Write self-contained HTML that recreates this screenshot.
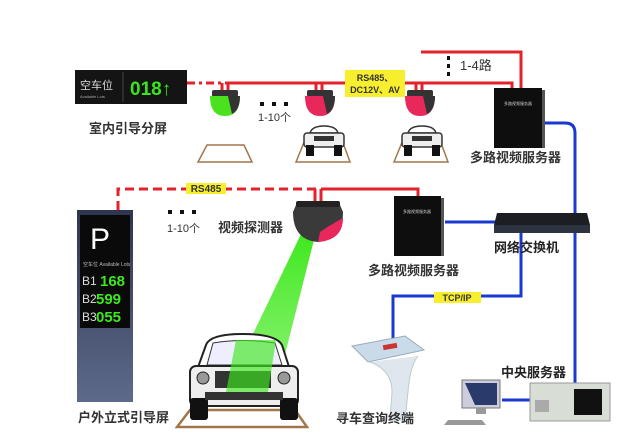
<!DOCTYPE html>
<html><head><meta charset="utf-8"><style>
html,body{margin:0;padding:0;background:#fff;width:641px;height:441px;overflow:hidden}
text{font-family:"Liberation Sans","Noto Sans CJK SC",sans-serif}
</style></head><body>
<svg width="641" height="441" viewBox="0 0 641 441" xmlns="http://www.w3.org/2000/svg">
<defs>
<linearGradient id="beam" x1="0" y1="0" x2="0" y2="1"><stop offset="0" stop-color="#3ee81e"/><stop offset="1" stop-color="#7cf060" stop-opacity="0.85"/></linearGradient>
<linearGradient id="pole" x1="0" y1="0" x2="0" y2="1"><stop offset="0" stop-color="#2e3550"/><stop offset="1" stop-color="#5d6a8a"/></linearGradient>
</defs>
<g stroke="#e3222b" stroke-width="3" fill="none">
<path d="M187 83 H225" stroke-dasharray="8,4,3,4"/>
<path d="M225 83 H345 M405 83 H512 V90"/>
<path d="M421 52 H521 V90"/>
<path d="M222 83 v8 M228 83 v8 M316 83 v8 M322 83 v8 M416 83 v8 M422 83 v8"/>
<path d="M118 210 V189 H330" stroke-dasharray="9,5"/>
<path d="M330 189 H418 V197"/>
<path d="M315 189 v12 M321 189 v12"/>
</g>
<rect x="345" y="70" width="60" height="27" fill="#f7ee2e"/>
<text x="375" y="81" font-size="9" font-weight="bold" text-anchor="middle" fill="#333">RS485、</text>
<text x="375" y="93" font-size="9" font-weight="bold" text-anchor="middle" fill="#333">DC12V、AV</text>
<g fill="#111"><rect x="447" y="56" width="3" height="4"/><rect x="447" y="64" width="3" height="4"/><rect x="447" y="72" width="3" height="4"/></g>
<text x="460" y="70" font-size="13" fill="#333">1-4路</text>
<rect x="186" y="183" width="40" height="11" fill="#f7ee2e"/>
<text x="206" y="192" font-size="10" font-weight="bold" text-anchor="middle" fill="#333">RS485</text>
<rect x="75" y="70" width="112" height="34" fill="#141414"/>
<line x1="123" y1="72" x2="123" y2="102" stroke="#444"/>
<text x="80" y="89" font-size="11" fill="#ddd">空车位</text>
<text x="80" y="98" font-size="4" fill="#aaa">Available Lots</text>
<text x="130" y="95" font-size="19" font-weight="bold" fill="#39e51f">018↑</text>
<text x="89" y="133" font-size="13" font-weight="bold" fill="#333">室内引导分屏</text>
<g>
<rect x="212" y="90" width="26" height="7" rx="2" fill="#333"/>
<path d="M210 96 H240 Q240 116 225 116 Q210 116 210 96Z" fill="#49e21d"/><path d="M228 96 H240 Q240 110 232 114Z" fill="#333"/>
<rect x="307" y="90" width="26" height="7" rx="2" fill="#333"/>
<path d="M305 96 H335 Q335 116 320 116 Q305 116 305 96Z" fill="#e8285a"/><path d="M323 96 H335 Q335 110 327 114Z" fill="#333"/>
<rect x="407" y="90" width="26" height="7" rx="2" fill="#333"/>
<path d="M405 96 H435 Q435 116 420 116 Q405 116 405 96Z" fill="#e8285a"/><path d="M423 96 H435 Q435 110 427 114Z" fill="#333"/>
</g>
<g fill="#111"><rect x="260" y="102" width="4" height="4"/><rect x="272" y="102" width="4" height="4"/><rect x="284" y="102" width="4" height="4"/>
<rect x="168" y="210" width="4" height="4"/><rect x="180" y="210" width="4" height="4"/><rect x="192" y="210" width="4" height="4"/></g>
<text x="258" y="121" font-size="11" fill="#333">1-10个</text>
<text x="167" y="232" font-size="11" fill="#333">1-10个</text>
<text x="218" y="232" font-size="13" font-weight="bold" fill="#333">视频探测器</text>
<g fill="none" stroke="#a0774a" stroke-width="1.5">
<path d="M198 162 L207 145 H244 L252 162Z"/>
<path d="M296 162 L305 140 H342 L350 162Z"/>
<path d="M394 162 L403 140 H440 L448 162Z"/>
</g>
<g>
<g transform="translate(302,123)"><path d="M8 10 Q10 3 22 3 Q34 3 36 10Z" fill="#fff" stroke="#333" stroke-width="1.5"/><rect x="2" y="10" width="40" height="14" rx="3" fill="#eee" stroke="#333" stroke-width="1.5"/><rect x="12" y="13" width="20" height="5" fill="#333"/><rect x="4" y="22" width="8" height="11" fill="#111"/><rect x="32" y="22" width="8" height="11" fill="#111"/></g>
<g transform="translate(400,123)"><path d="M8 10 Q10 3 22 3 Q34 3 36 10Z" fill="#fff" stroke="#333" stroke-width="1.5"/><rect x="2" y="10" width="40" height="14" rx="3" fill="#eee" stroke="#333" stroke-width="1.5"/><rect x="12" y="13" width="20" height="5" fill="#333"/><rect x="4" y="22" width="8" height="11" fill="#111"/><rect x="32" y="22" width="8" height="11" fill="#111"/></g>
</g>
<rect x="494" y="88" width="48" height="60" fill="#0e0e0e"/><rect x="542" y="90" width="3" height="58" fill="#555"/>
<text x="518" y="105" font-size="4" fill="#ccc" text-anchor="middle">多路视频服务器</text>
<text x="470" y="162" font-size="13" font-weight="bold" fill="#333">多路视频服务器</text>
<rect x="394" y="196" width="47" height="60" fill="#0e0e0e"/><rect x="441" y="198" width="3" height="58" fill="#555"/>
<text x="417" y="213" font-size="4" fill="#ccc" text-anchor="middle">多路视频服务器</text>
<text x="368" y="275" font-size="13" font-weight="bold" fill="#333">多路视频服务器</text>
<g stroke="#1a39d0" stroke-width="3" fill="none">
<path d="M545 123 H565 Q575 123 575 133 V385"/>
<path d="M445 222 H495"/>
<path d="M521 232 V296 H393 V338"/>
<path d="M502 400 H530"/>
</g>
<rect x="434" y="292" width="47" height="11" fill="#f7ee2e"/>
<text x="457" y="301" font-size="9" font-weight="bold" text-anchor="middle" fill="#333">TCP/IP</text>
<path d="M497 213 H587 L590 225 H494Z" fill="#1d1d24"/><rect x="494" y="225" width="96" height="8" fill="#2e3340"/>
<text x="494" y="252" font-size="13" font-weight="bold" fill="#222">网络交换机</text>
<polygon points="302,232 316,232 276,390 226,390" fill="url(#beam)"/>
<path d="M296 205 H340 L343 212 Q343 240 318 242 Q293 240 293 212Z" fill="#3a3a3a"/>
<path d="M318 242 Q343 240 343 218 Q330 225 320 232Z" fill="#e8285a"/>
<rect x="296" y="201" width="44" height="6" rx="2" fill="#222"/>
<rect x="77" y="210" width="56" height="192" fill="url(#pole)"/>
<rect x="80" y="215" width="50" height="113" fill="#0a0a0a"/>
<text x="90" y="249" font-size="30" fill="#fff">P</text>
<text x="83" y="266" font-size="5" fill="#bbb">空车位  Available Lots</text>
<text x="82" y="285" font-size="12" fill="#ddd">B1</text><text x="100" y="286" font-size="15" font-weight="bold" fill="#3ee81e">168</text>
<text x="82" y="303" font-size="12" fill="#ddd">B2</text><text x="96" y="304" font-size="15" font-weight="bold" fill="#3ee81e">599</text>
<text x="82" y="321" font-size="12" fill="#ddd">B3</text><text x="96" y="322" font-size="15" font-weight="bold" fill="#3ee81e">055</text>
<text x="78" y="422" font-size="13" font-weight="bold" fill="#333">户外立式引导屏</text>
<path d="M177 427 L190 410 H295 L307 427Z" fill="none" stroke="#a0774a" stroke-width="2.5"/>
<path d="M206 345 Q210 334 243 334 Q276 334 282 345 L290 370 H197Z" fill="#fff" stroke="#222" stroke-width="2"/>
<path d="M207 365 L213 343 Q243 338 275 343 L282 365Z" fill="#eef" stroke="#333"/>
<rect x="190" y="366" width="108" height="40" rx="6" fill="#eee" stroke="#222" stroke-width="2"/>
<rect x="215" y="371" width="56" height="17" fill="#333"/>
<circle cx="203" cy="378" r="6" fill="#999" stroke="#222"/><circle cx="284" cy="378" r="6" fill="#999" stroke="#222"/>
<rect x="190" y="398" width="18" height="22" rx="3" fill="#111"/><rect x="280" y="398" width="18" height="22" rx="3" fill="#111"/>
<rect x="205" y="392" width="78" height="8" fill="#333"/>
<polygon points="236,340 276,340 268,392 226,392" fill="#3ee81e" opacity="0.65"/>
<path d="M352 346 L405 336 L424 350 L368 362Z" fill="#c9dbe8" stroke="#9ab" />
<rect x="383" y="344" width="14" height="5" fill="#c33" transform="rotate(-10 390 346)"/>
<path d="M370 362 Q392 370 392 392 L390 420 H405 L408 392 Q410 366 418 356" fill="#dfe6ee" stroke="#bcc"/>
<text x="336" y="423" font-size="13" font-weight="bold" fill="#333">寻车查询终端</text>
<text x="501" y="377" font-size="13" font-weight="bold" fill="#222">中央服务器</text>
<rect x="462" y="380" width="38" height="28" fill="#ccd" stroke="#777"/><path d="M465 383 H497 V405 H475Z" fill="#2a3a6a"/>
<rect x="476" y="408" width="10" height="6" fill="#999"/>
<path d="M448 420 H482 L486 425 H444Z" fill="#999"/>
<rect x="530" y="383" width="80" height="38" fill="#d8ddd6" stroke="#999"/>
<rect x="574" y="389" width="28" height="26" fill="#111"/>
<rect x="535" y="400" width="14" height="12" fill="#aaa"/>
</svg>
</body></html>
